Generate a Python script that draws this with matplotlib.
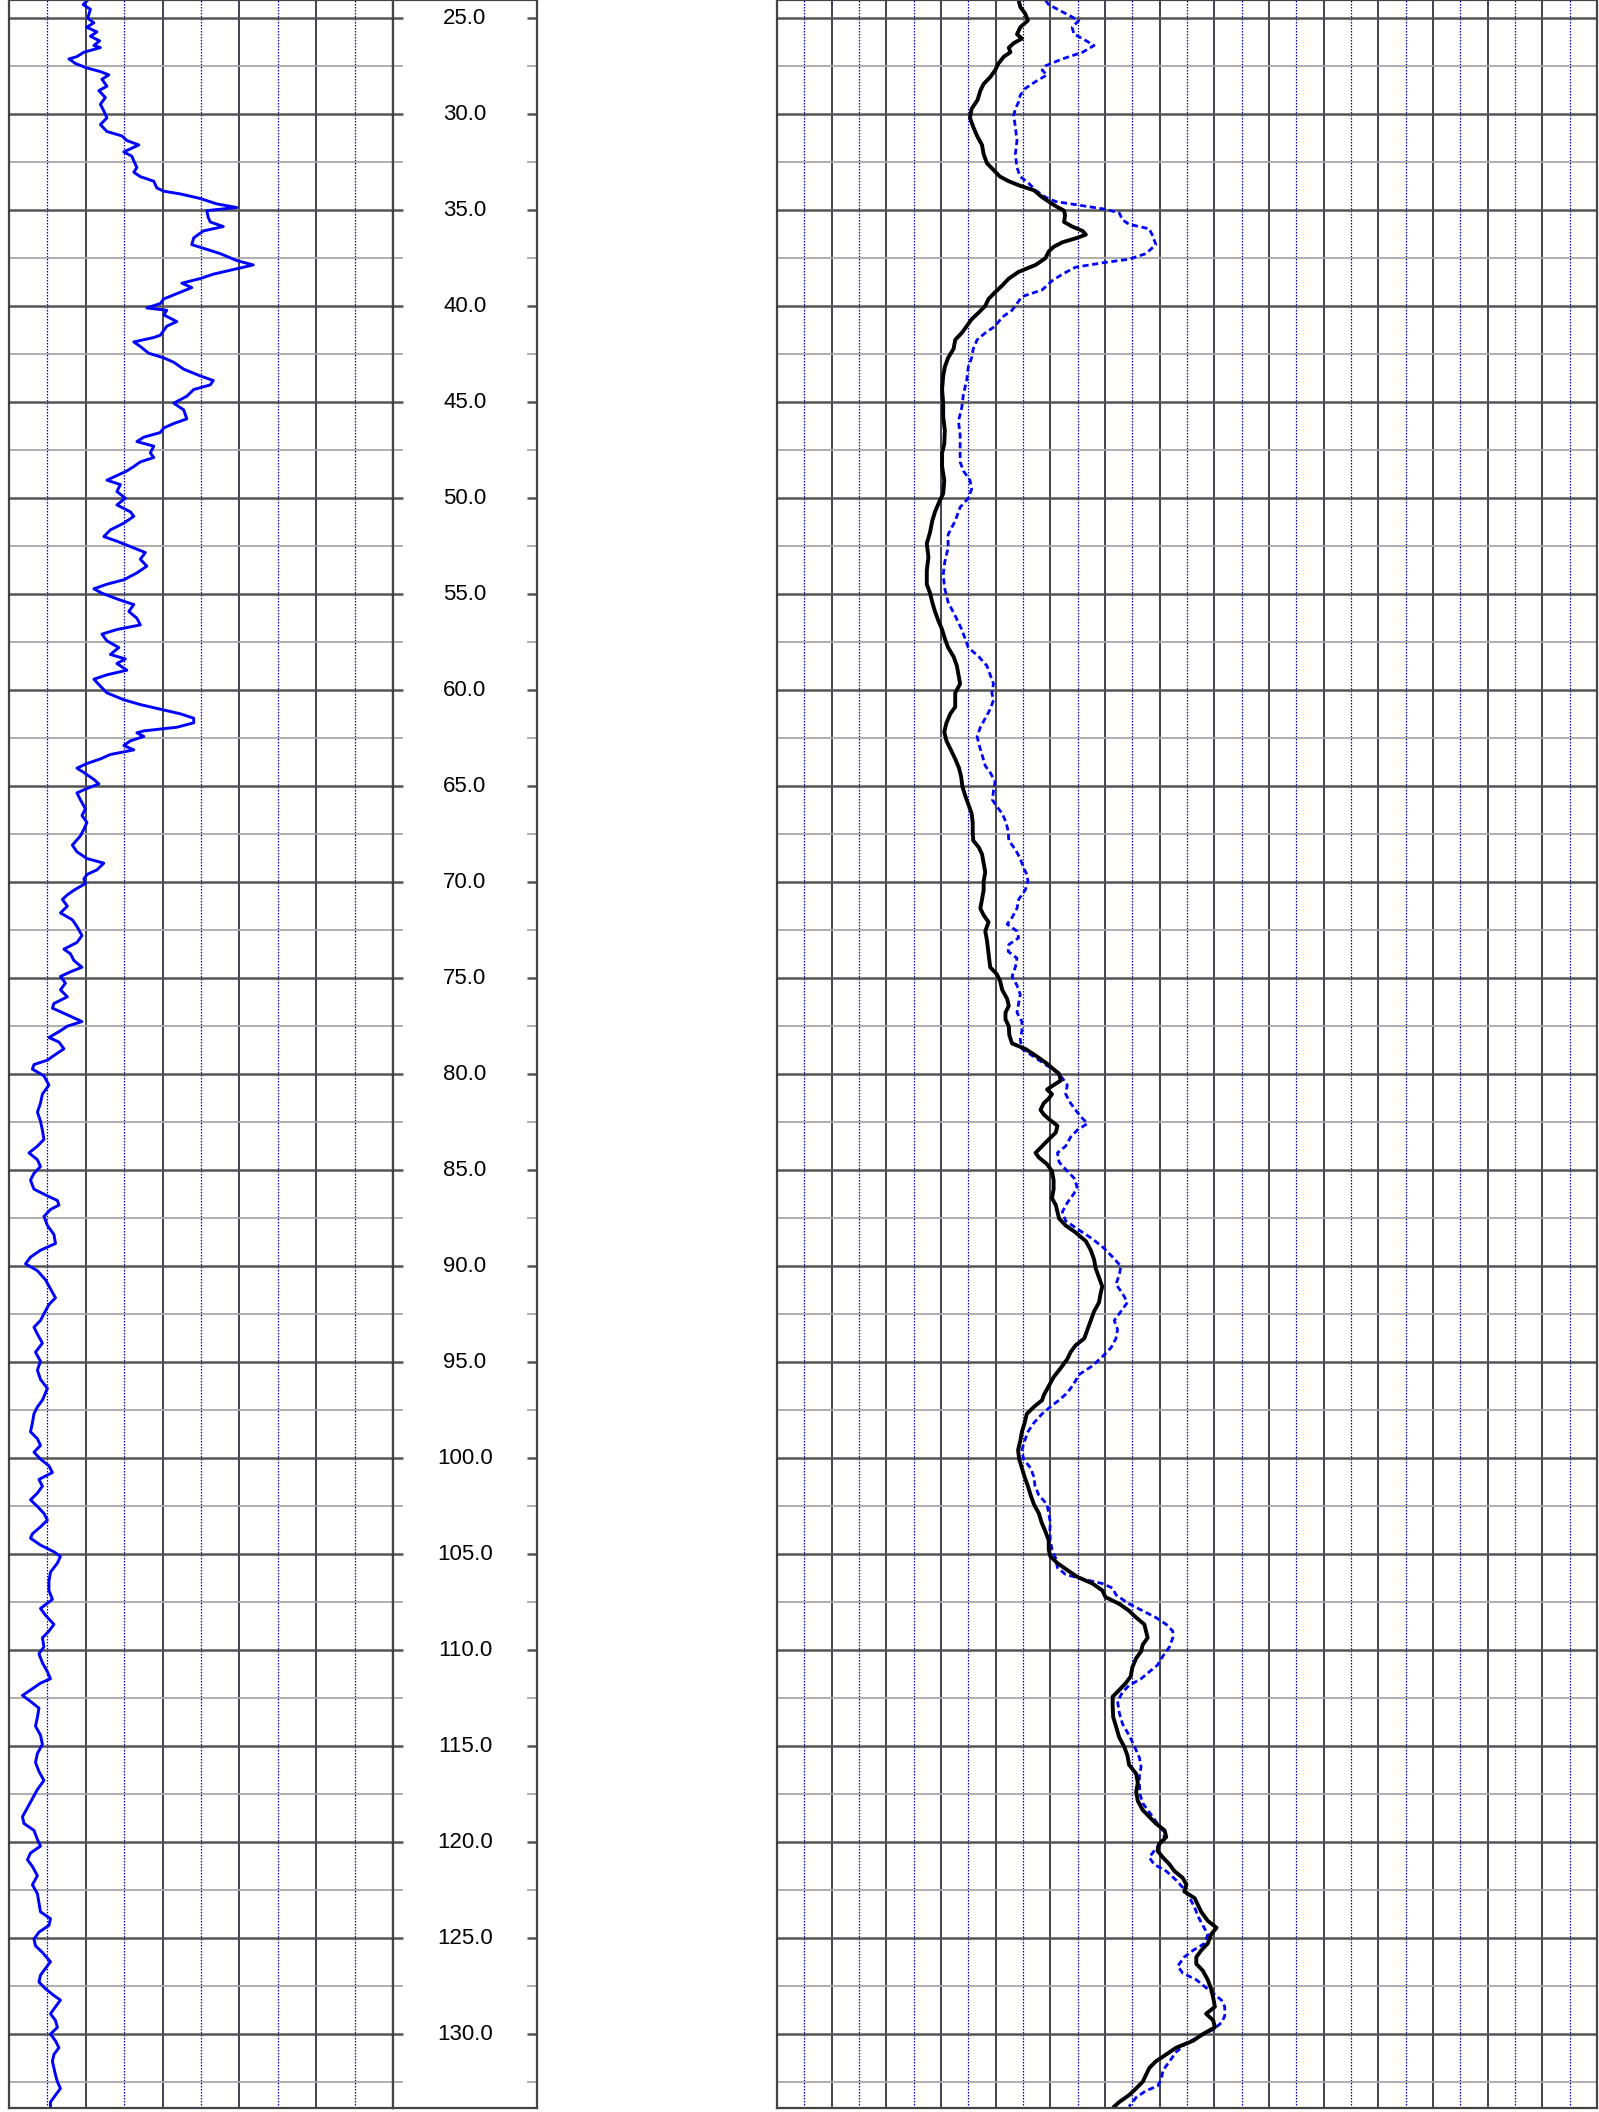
import matplotlib.pyplot as plt
from matplotlib.ticker import MultipleLocator

plt.rcParams['font.family'] = ['Liberation Sans', 'DejaVu Sans']

# depth window shown (m)
top_depth = 24.05
bottom_depth = 133.85
depth_labels = [25, 30, 35, 40, 45, 50, 55, 60, 65, 70, 75, 80, 85, 90,
                95, 100, 105, 110, 115, 120, 125, 130]

# left track curve (blue, solid)
gr_depth = [
    24.06, 24.29, 24.53, 25.00, 25.24, 25.47, 25.71, 25.94, 26.18, 26.42,
    26.53, 26.77, 27.00, 27.12, 27.24, 27.36, 27.59, 27.78, 27.95, 28.18,
    28.54, 28.77, 29.13, 29.48, 29.83, 30.19, 30.54, 30.90, 31.13, 31.37,
    31.60, 31.96, 32.19, 32.43, 32.78, 33.02, 33.25, 33.49, 33.84, 34.01,
    34.15, 34.39, 34.67, 34.86, 35.02, 35.38, 35.61, 35.85, 36.08, 36.44,
    36.79, 36.98, 37.26, 37.62, 37.85, 38.09, 38.33, 38.56, 38.80, 39.03,
    39.27, 39.62, 39.86, 40.09, 40.21, 40.45, 40.80, 41.04, 41.51, 41.63,
    41.86, 42.10, 42.45, 42.69, 42.92, 43.28, 43.63, 43.87, 44.10, 44.34,
    44.69, 45.05, 45.40, 45.87, 46.11, 46.34, 46.58, 46.82, 47.05, 47.29,
    47.64, 47.88, 48.11, 48.35, 48.58, 48.82, 49.06, 49.29, 49.65, 50.00,
    50.35, 50.71, 50.94, 51.30, 51.65, 52.00, 52.24, 52.59, 52.83, 53.18,
    53.54, 53.89, 54.25, 54.48, 54.72, 54.95, 55.31, 55.54, 55.90, 56.25,
    56.60, 56.84, 57.08, 57.43, 57.78, 58.14, 58.37, 58.61, 58.96, 59.20,
    59.43, 59.79, 60.14, 60.50,
    60.75, 60.99, 61.23, 61.46, 61.70, 61.93, 62.12, 62.22, 62.41, 62.64,
    62.88, 63.11, 63.35, 63.58, 63.82, 64.06, 64.29, 64.65, 64.88, 65.12,
    65.35, 65.71, 66.18, 66.53, 66.89, 67.24, 67.59, 68.07, 68.42, 68.77,
    69.01, 69.36, 69.60, 69.83, 70.07, 70.42, 70.66, 70.90, 71.25, 71.60,
    71.96, 72.31, 72.78, 73.14, 73.49, 73.73, 74.08, 74.43, 74.67, 74.91,
    75.26, 75.61, 75.97, 76.32, 76.56, 76.91, 77.26, 77.50, 77.74, 78.09,
    78.33, 78.68, 79.03, 79.27, 79.50, 79.74, 80.09, 80.57, 81.04, 81.51,
    81.98, 82.45, 82.92, 83.40, 83.75, 84.10, 84.46, 84.81, 85.17, 85.52,
    85.99, 86.34, 86.58, 86.82, 87.05, 87.41, 87.88, 88.35, 88.82, 89.17,
    89.53, 89.88, 90.24, 90.71, 91.18, 91.65, 92.00, 92.48, 92.83, 93.18,
    93.54, 94.01, 94.48, 94.95, 95.42, 95.90, 96.37,
    96.98, 97.33, 97.69, 98.16, 98.63, 98.99, 99.34, 99.69, 100.05, 100.40,
    100.75, 101.11, 101.46, 101.82, 102.17, 102.52, 102.88, 103.23, 103.58, 103.94,
    104.17, 104.53, 104.88, 105.12, 105.47, 105.94, 106.42, 106.89, 107.36, 107.83,
    108.18, 108.66, 109.01, 109.36, 109.83, 110.19, 110.66, 111.13, 111.49, 111.72,
    112.08, 112.36, 112.67, 113.02, 113.49, 113.96, 114.43, 114.91, 115.38, 115.85,
    116.32, 116.79, 117.26, 117.74, 118.21, 118.68, 119.03, 119.39, 119.86, 120.21,
    120.57, 120.92, 121.27, 121.75, 122.22, 122.69, 123.16, 123.63, 123.99, 124.34,
    124.69, 125.05, 125.40, 125.75, 126.23, 126.58, 126.93, 127.29, 127.64, 127.99,
    128.23, 128.58, 128.94, 129.29, 129.65, 130.00, 130.35, 130.71, 131.06, 131.42,
    131.77, 132.12, 132.48, 132.83, 133.18, 133.54, 133.77]
gr = [
    20.5, 19.3, 21.2, 20.5, 22.1, 20.2, 22.9, 21.2, 23.6, 22.1,
    23.8, 19.5, 17.7, 15.6, 16.5, 17.3, 20.3, 23.8, 26.0, 24.2,
    25.5, 23.4, 25.1, 23.8, 24.7, 25.5, 23.8, 25.5, 29.4, 30.7,
    33.8, 29.9, 32.0, 32.5, 33.3, 32.5, 34.2, 37.7, 38.5, 40.3,
    44.6, 49.8, 54.1, 59.3, 51.5, 51.9, 52.4, 55.8, 50.6, 48.1,
    47.6, 50.6, 55.0, 59.3, 63.6, 58.4, 53.2, 49.8, 45.0, 47.6,
    44.6, 40.3, 39.4, 35.9, 41.1, 40.3, 43.7, 41.1, 39.4, 37.7,
    32.5, 34.2, 36.4, 40.3, 42.9, 45.5, 49.8, 53.2, 52.4, 48.1,
    46.3, 42.9, 45.5, 46.3, 42.9, 40.3, 39.4, 35.1, 33.3, 37.7,
    36.8, 37.7, 34.2, 32.5, 30.7, 28.1, 25.5, 29.0, 28.1, 30.3,
    28.1, 31.6, 32.5, 29.9, 26.4, 24.7, 28.1, 32.5, 35.5, 34.2,
    35.9, 33.3, 29.9, 25.5, 22.1, 24.2, 29.0, 32.5, 31.2, 33.3,
    34.2, 28.1, 24.2, 25.5, 28.6, 26.4, 30.3, 28.1, 30.7, 25.5,
    22.1, 23.8, 25.5, 29.9,
    34.2, 39.4, 44.6, 48.1, 48.1, 43.7, 35.1, 33.3, 35.1, 31.6,
    29.9, 32.5, 26.4, 23.8, 20.3, 17.7, 19.5, 22.1, 23.4, 20.3,
    17.7, 18.6, 19.9, 19.0, 20.3, 19.5, 18.6, 16.5, 17.7, 20.3,
    24.7, 22.9, 20.3, 19.5, 19.9, 16.9, 15.2, 13.9, 15.2, 13.4,
    16.5, 17.7, 19.0, 17.7, 14.3, 16.0, 16.9, 19.0, 16.0, 13.4,
    14.7, 13.4, 15.2, 11.7, 11.3, 15.2, 19.0, 15.2, 13.4, 10.4,
    13.0, 14.3, 11.7, 10.0, 6.5, 6.1, 9.1, 10.4, 8.7, 8.2,
    7.4, 8.2, 8.7, 9.1, 7.4, 5.2, 7.4, 8.2, 6.5, 5.6,
    6.5, 10.0, 12.6, 13.0, 10.8, 9.1, 10.0, 11.7, 12.1, 8.2,
    5.6, 4.3, 7.4, 9.5, 10.8, 12.1, 10.4, 9.1, 8.2, 6.5,
    7.4, 8.7, 6.9, 8.2, 7.4, 8.2, 10.0,
    8.7, 7.4, 6.5, 6.1, 5.6, 7.4, 8.2, 6.5, 8.2, 10.4,
    11.3, 7.8, 8.7, 7.4, 5.6, 7.4, 9.1, 10.0, 8.2, 6.1,
    5.6, 8.2, 11.7, 13.4, 12.6, 10.8, 10.4, 10.4, 11.3, 8.2,
    9.5, 11.7, 10.4, 8.7, 9.1, 7.8, 8.7, 10.0, 10.8, 8.2,
    5.6, 3.5, 5.6, 7.8, 7.4, 6.9, 8.2, 8.7, 7.4, 6.9,
    7.8, 9.1, 7.4, 6.1, 4.8, 3.5, 3.9, 6.5, 7.4, 8.2,
    5.6, 4.8, 6.1, 7.4, 6.1, 7.4, 7.8, 8.2, 10.8, 10.4,
    7.8, 6.5, 6.9, 8.7, 10.8, 9.5, 8.2, 7.8, 9.5, 11.7,
    13.4, 12.1, 10.8, 12.1, 12.6, 10.8, 12.1, 13.0, 11.7, 11.3,
    11.7, 12.1, 12.6, 13.4, 12.1, 10.8, 10.8]

# right track, black solid curve
deep_depth = [
    24.06, 24.41, 24.76, 25.12, 25.47, 25.83, 26.06, 26.30, 26.53, 26.77,
    27.00, 27.36, 27.71, 28.07, 28.42, 28.77, 29.25, 29.72, 30.19, 30.66,
    31.13, 31.60, 32.08, 32.55, 32.90, 33.25, 33.49, 33.73, 33.96, 34.32,
    34.55, 34.79, 35.02, 35.26, 35.61, 35.85, 36.08, 36.27, 36.44, 36.67,
    36.91, 37.15, 37.50, 37.85, 38.21, 38.56, 38.92, 39.27, 39.62, 39.98,
    40.33, 40.68, 41.04, 41.39, 41.75, 42.22, 42.69, 43.16, 43.63, 44.34,
    45.05, 45.75, 46.46, 47.17, 47.64, 48.35, 49.06, 49.76, 50.24, 50.71,
    51.18, 51.77, 52.36, 53.07, 53.77, 54.48, 54.95, 55.42, 55.90, 56.37,
    56.84, 57.31, 57.78, 58.25, 58.73, 59.20, 59.67, 60.14,
    60.52, 60.87, 61.23, 61.70, 62.17, 62.64, 63.11, 63.58, 64.06, 64.53,
    65.00, 65.47, 65.94, 66.42, 66.89, 67.36, 67.83, 68.18, 68.54, 69.01,
    69.48, 69.95, 70.42, 70.90, 71.37, 71.72, 72.08, 72.55, 73.02, 73.49,
    73.96, 74.43, 74.79, 75.14, 75.61, 76.08, 76.44, 76.79, 77.15, 77.50,
    77.97, 78.40, 78.68, 79.03, 79.39, 79.74, 79.98, 80.33, 80.57, 80.80,
    81.04, 81.27, 81.51, 81.86, 82.10, 82.33, 82.69, 83.04, 83.40, 83.75,
    84.10, 84.34, 84.69, 85.05, 85.52, 85.99, 86.46, 86.82, 87.17, 87.52,
    87.88, 88.24, 88.70, 89.17, 89.65, 90.12, 90.59, 91.06, 91.42, 91.89,
    92.36, 92.83, 93.30, 93.77, 94.13, 94.48, 94.84, 95.31, 95.78, 96.25,
    96.72,
    96.98, 97.33, 97.69, 98.16, 98.63, 99.10, 99.58, 100.05, 100.52, 100.99,
    101.46, 101.93, 102.41, 102.88, 103.35, 103.82, 104.29, 104.76, 105.12, 105.47,
    105.83, 106.18, 106.53, 106.89, 107.24, 107.59, 107.95, 108.30, 108.66, 109.01,
    109.36, 109.72, 110.07, 110.42, 110.90, 111.37, 111.72, 112.08, 112.43, 112.90,
    113.49, 113.96, 114.55, 115.02, 115.49, 115.97, 116.44, 116.91, 117.38, 117.85,
    118.33, 118.68, 119.03, 119.39, 119.74, 120.09, 120.45, 120.80, 121.16, 121.51,
    121.86, 122.22, 122.57, 122.92, 123.28, 123.63, 124.10, 124.46, 124.81, 125.28,
    125.64, 125.99, 126.34, 126.70, 127.17, 127.64, 128.11, 128.58, 128.94, 129.29,
    129.65, 130.00, 130.35, 130.71, 131.06, 131.42, 131.77, 132.12, 132.48, 132.83,
    133.18, 133.54, 133.77]
deep = [
    44.2, 44.5, 45.4, 45.9, 44.5, 43.9, 44.8, 43.3, 42.4, 42.7,
    41.5, 40.5, 39.9, 39.0, 37.8, 37.2, 36.7, 35.6, 35.3, 35.9,
    36.6, 37.5, 37.8, 38.4, 39.6, 40.8, 42.4, 44.5, 47.0, 48.5,
    49.7, 51.0, 52.5, 52.7, 52.5, 54.0, 55.9, 56.5, 54.9, 52.2,
    50.6, 49.7, 49.1, 47.3, 44.2, 42.4, 41.2, 39.9, 38.7, 38.1,
    36.9, 35.6, 34.7, 33.8, 32.6, 32.3, 31.3, 30.7, 30.4, 30.2,
    30.4, 30.4, 30.7, 30.6, 30.2, 30.2, 30.6, 30.4, 29.6, 28.9,
    28.4, 28.0, 27.4, 27.7, 27.4, 27.4, 28.0, 28.4, 28.9, 29.5,
    30.2, 30.7, 31.3, 32.3, 32.9, 33.2, 33.5, 32.6,
    32.6, 32.6, 31.7, 31.0, 30.6, 31.0, 31.8, 32.6, 33.3, 33.7,
    33.9, 34.4, 35.0, 35.6, 35.8, 35.8, 35.9, 36.9, 37.5, 37.8,
    38.1, 37.8, 37.8, 37.5, 37.2, 37.8, 38.7, 38.1, 38.4, 38.6,
    38.8, 39.0, 40.2, 40.8, 41.2, 42.1, 42.4, 41.8, 41.8, 42.4,
    42.5, 43.0, 45.4, 47.3, 49.1, 50.6, 51.6, 51.9, 50.6, 49.4,
    50.3, 49.7, 48.8, 48.2, 48.8, 49.7, 51.3, 51.0, 49.7, 48.5,
    47.3, 47.9, 49.4, 50.3, 50.6, 50.6, 50.3, 51.0, 51.3, 51.6,
    52.8, 54.6, 56.5, 57.4, 58.0, 58.3, 58.9, 59.5, 59.2, 58.9,
    58.0, 57.4, 56.8, 56.2, 54.6, 53.7, 53.1, 51.9, 50.6, 49.7,
    48.8,
    48.5, 47.0, 45.7, 45.3, 44.8, 44.5, 44.1, 44.3, 44.8, 45.3,
    45.9, 46.4, 47.0, 47.9, 48.4, 49.1, 49.7, 49.7, 50.0, 51.3,
    53.1, 54.9, 57.7, 59.5, 60.1, 62.6, 64.4, 65.7, 67.2, 67.5,
    67.8, 66.9, 66.6, 65.7, 65.0, 64.7, 63.8, 62.6, 61.4, 61.4,
    61.5, 62.0, 62.6, 63.5, 64.1, 64.4, 65.7, 66.0, 65.7, 66.0,
    66.9, 68.1, 69.3, 70.9, 71.2, 69.9, 69.6, 70.6, 71.8, 72.7,
    74.2, 74.9, 74.5, 76.4, 77.0, 77.6, 78.8, 80.4, 79.4, 78.8,
    77.6, 76.7, 76.7, 77.9, 78.8, 79.4, 79.8, 80.1, 78.5, 79.8,
    80.1, 77.9, 76.1, 73.0, 71.2, 69.3, 68.1, 67.5, 66.9, 65.7,
    64.4, 62.6, 61.7]

# right track, blue dashed curve
shallow_depth = [
    24.06, 24.29, 24.76, 25.12, 25.47, 25.83, 26.06, 26.42, 26.77, 27.12,
    27.48, 27.71, 27.95, 28.30, 28.66, 29.01, 29.36, 29.72, 30.07, 30.66,
    31.37, 32.08, 32.78, 33.25, 33.61, 33.96, 34.32, 34.55, 34.79, 34.95,
    35.14, 35.50, 35.73, 35.97, 36.32, 36.79, 37.26, 37.55, 37.74, 37.97,
    38.33, 38.68, 39.15, 39.50, 39.86, 40.21, 40.57, 41.04, 41.39, 41.75,
    42.22, 42.69, 43.16, 43.87, 44.58, 45.28, 45.99, 46.70, 47.41, 48.11,
    48.58, 49.06, 49.53, 50.00, 50.47, 51.18, 51.89, 52.59, 53.30, 54.01,
    54.72, 55.42, 56.13, 56.84, 57.31, 57.78, 58.25, 58.73, 59.20, 59.67,
    60.14,
    60.52, 60.99, 61.46, 61.93, 62.41, 62.88, 63.35, 63.94, 64.29, 64.76,
    65.24, 65.71, 66.06, 66.42, 66.89, 67.36, 67.83, 68.30, 68.77, 69.25,
    69.60, 69.95, 70.42, 70.90, 71.37, 71.84, 72.19, 72.55, 72.90, 73.25,
    73.61, 73.96, 74.43, 74.91, 75.38, 75.85, 76.32, 76.79, 77.26, 77.74,
    78.21, 78.68, 79.15, 79.50, 79.86, 80.21, 80.57, 81.04, 81.51, 81.86,
    82.22, 82.57, 82.92, 83.28, 83.75, 84.10, 84.58, 85.05, 85.40, 85.87,
    86.23, 86.70, 87.17, 87.64, 88.11, 88.58, 89.06, 89.53, 90.00, 90.47,
    90.94, 91.42, 91.89, 92.36, 92.83, 93.30, 93.77, 94.25, 94.72, 95.19,
    95.66, 96.13, 96.60,
    96.98, 97.33, 97.69, 98.16, 98.63, 99.10, 99.58, 100.05, 100.52, 100.99,
    101.46, 101.93, 102.41, 102.88, 103.35, 103.82, 104.29, 104.76, 105.24, 105.71,
    106.06, 106.30, 106.53, 106.77, 107.12, 107.59, 107.95, 108.30, 108.66, 109.01,
    109.36, 109.83, 110.31, 110.78, 111.13, 111.49, 111.84, 112.19, 112.67, 113.25,
    113.84, 114.43, 115.02, 115.61, 116.08, 116.56, 117.03, 117.50, 117.97, 118.44,
    118.92, 119.39, 119.86, 120.33, 120.80, 121.16, 121.51, 121.98, 122.45, 122.92,
    123.40, 123.87, 124.34, 124.81, 125.28, 125.64, 125.99, 126.46, 126.82, 127.17,
    127.52, 127.88, 128.23, 128.58, 129.06, 129.41, 129.76, 130.12, 130.47, 130.94,
    131.42, 131.89, 132.36, 132.71, 132.95, 133.30, 133.77]
shallow = [
    49.1, 49.7, 52.8, 55.2, 54.0, 54.3, 55.9, 58.0, 55.9, 52.2,
    49.1, 48.5, 49.4, 47.3, 45.4, 44.5, 44.2, 43.6, 43.3, 43.6,
    43.9, 43.6, 43.9, 44.5, 46.1, 47.3, 49.1, 51.0, 56.5, 60.1,
    62.6, 63.2, 64.4, 68.1, 68.7, 69.3, 67.5, 64.4, 59.5, 54.6,
    52.2, 50.3, 48.5, 44.8, 43.9, 43.0, 41.2, 39.9, 38.1, 36.6,
    35.9, 35.6, 35.0, 34.7, 34.1, 33.8, 33.2, 33.5, 33.5, 33.5,
    34.1, 35.3, 35.6, 35.0, 33.5, 32.6, 31.3, 31.3, 30.7, 30.4,
    30.7, 31.3, 32.6, 33.8, 34.4, 35.0, 36.9, 38.4, 39.0, 39.6,
    39.3,
    39.6, 39.0, 38.1, 37.2, 36.6, 37.0, 37.5, 38.1, 39.0, 39.9,
    39.6, 39.4, 40.2, 41.2, 41.9, 42.3, 42.4, 43.6, 44.5, 45.1,
    45.7, 45.9, 45.4, 44.2, 43.9, 43.0, 42.1, 43.9, 44.2, 42.4,
    42.3, 43.9, 43.6, 43.0, 43.9, 44.5, 44.2, 43.9, 44.8, 44.8,
    44.5, 44.8, 47.3, 49.1, 51.0, 52.2, 53.1, 52.8, 53.7, 54.6,
    55.6, 56.8, 54.9, 53.7, 52.8, 51.3, 51.6, 53.1, 54.3, 54.9,
    54.3, 53.1, 52.2, 52.8, 55.2, 57.7, 59.8, 61.4, 62.9, 62.6,
    62.0, 63.2, 64.1, 62.9, 61.7, 62.3, 62.0, 61.1, 59.5, 57.7,
    55.2, 54.3, 53.1,
    51.6, 50.0, 48.5, 47.0, 45.9, 45.3, 44.8, 45.1, 46.4, 47.0,
    47.2, 47.9, 49.4, 49.7, 50.0, 49.9, 50.0, 50.3, 51.0, 51.3,
    52.8, 55.9, 59.5, 61.4, 62.0, 64.4, 66.9, 69.3, 71.2, 72.4,
    72.4, 71.8, 70.6, 69.6, 68.1, 66.6, 64.4, 63.2, 62.3, 62.6,
    63.2, 64.4, 65.4, 66.3, 66.6, 66.3, 66.3, 66.4, 66.9, 68.1,
    69.3, 70.6, 70.9, 69.3, 68.1, 69.0, 71.2, 73.0, 74.5, 75.5,
    76.4, 77.0, 77.9, 78.8, 78.2, 76.1, 74.5, 73.3, 74.2, 76.7,
    78.2, 79.8, 81.3, 81.9, 81.9, 81.3, 79.8, 77.3, 74.9, 73.0,
    71.8, 70.6, 70.3, 69.6, 67.5, 65.7, 64.4]

W, H = 1599, 2112
fig = plt.figure(figsize=(W / 100, H / 100), dpi=100)


def add_track(x0, x1):
    return fig.add_axes([x0 / W, 4 / H, (x1 - x0) / W, 2108 / H])


def style_grid(ax, xmax, major, minor):
    ax.set_xlim(0, xmax)
    ax.set_ylim(bottom_depth, top_depth)
    ax.xaxis.set_major_locator(MultipleLocator(major))
    ax.xaxis.set_minor_locator(MultipleLocator(minor))
    ax.yaxis.set_major_locator(MultipleLocator(5))
    ax.yaxis.set_minor_locator(MultipleLocator(2.5))
    ax.grid(True, axis='x', which='major', color='#101020', lw=1.1)
    ax.grid(True, axis='x', which='minor', color='#0000c0', lw=0.9, ls=(0, (1.2, 1.2)))
    ax.grid(True, axis='y', which='major', color='#555555', lw=1.8)
    ax.grid(True, axis='y', which='minor', color='#a8a8a8', lw=1.3)
    ax.tick_params(which='both', length=0, labelleft=False, labelbottom=False)
    for s in ax.spines.values():
        s.set_color('#444444')
        s.set_linewidth(1.6)


# left track
ax1 = add_track(9, 393)
style_grid(ax1, 100, 20, 10)
ax1.plot(gr, gr_depth, color='#0000ff', lw=2.1)

# depth column
axd = add_track(393, 537)
axd.set_xlim(0, 1)
axd.set_ylim(bottom_depth, top_depth)
axd.set_xticks([])
axd.yaxis.set_major_locator(MultipleLocator(5))
axd.yaxis.set_minor_locator(MultipleLocator(2.5))
axd.tick_params(axis='y', which='major', direction='in', length=7.5, width=1.8,
                color='#555555', left=True, right=True, labelleft=False)
axd.tick_params(axis='y', which='minor', direction='in', length=7.5, width=1.3,
                color='#a8a8a8', left=True, right=True)
for s in axd.spines.values():
    s.set_color('#444444')
    s.set_linewidth(1.6)
for d in depth_labels:
    axd.text(0.5, d, f'{d:.1f}', transform=axd.get_yaxis_transform(),
             ha='center', va='center', fontsize=16)

# right track
ax2 = add_track(777, 1597)
style_grid(ax2, 150, 10, 5)
ax2.plot(shallow, shallow_depth, color='#0000ff', lw=2.0, ls=(0, (2.2, 1.3)))
ax2.plot(deep, deep_depth, color='black', lw=2.8)

fig.savefig('out.png', dpi=100)
